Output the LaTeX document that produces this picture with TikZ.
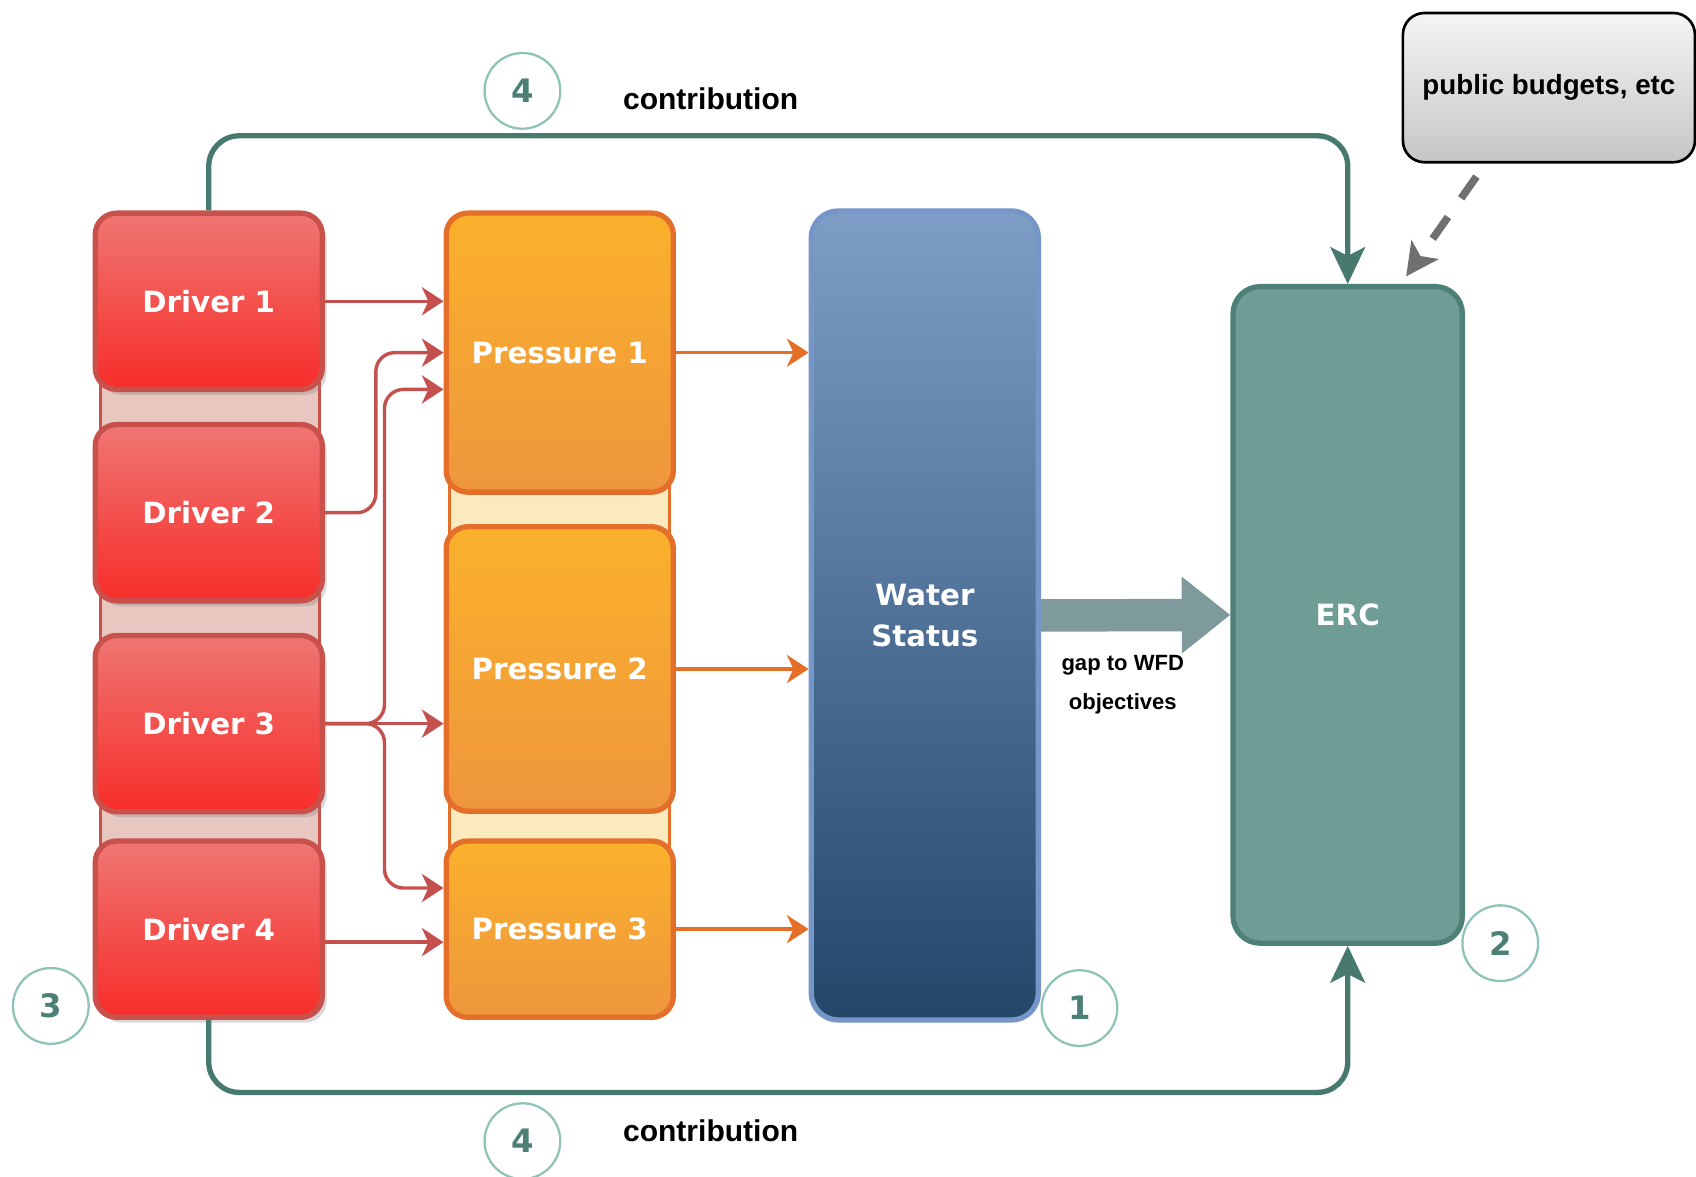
\documentclass[tikz,border=0pt]{standalone}
\usepackage{fontspec}
\setmainfont{Liberation Sans}
\newfontfamily\boxfont{DejaVu Sans}
\usetikzlibrary{arrows.meta,shadows}
\definecolor{drvtop}{HTML}{EF7672}
\definecolor{drvbot}{HTML}{F72D2A}
\definecolor{drvline}{HTML}{C9514C}
\definecolor{drvback}{HTML}{E8C7C1}
\definecolor{prtop}{HTML}{FBB12B}
\definecolor{prbot}{HTML}{EE963D}
\definecolor{prline}{HTML}{E46F2B}
\definecolor{prback}{HTML}{FCEABF}
\definecolor{wtop}{HTML}{7E9DC7}
\definecolor{wbot}{HTML}{234669}
\definecolor{wline}{HTML}{7596C6}
\definecolor{ercfill}{HTML}{6F9C94}
\definecolor{ercline}{HTML}{4D8177}
\definecolor{tealln}{HTML}{47796F}
\definecolor{numline}{HTML}{8FC3B7}
\definecolor{numtext}{HTML}{4C8075}
\definecolor{redarr}{HTML}{C5514E}
\definecolor{orarr}{HTML}{E66F28}
\definecolor{gapcol}{HTML}{7F9A9D}
\definecolor{dashgrey}{HTML}{707070}
\tikzset{
	box/.style={rounded corners=0.2cm, line width=1.4pt, minimum width=2.1cm, text=white, align=center,
		font=\boxfont\bfseries\fontsize{7.7}{11}\selectfont},
	driverbox/.style={box, draw=drvline, top color=drvtop, bottom color=drvbot, minimum height=1.63cm,
		drop shadow={shadow xshift=0.04cm, shadow yshift=-0.05cm, opacity=0.3}},
	pressbox/.style={box, draw=prline, top color=prtop, bottom color=prbot},
	numcirc/.style={circle, draw=numline, line width=0.6pt, minimum size=0.7cm, text=numtext,
		font=\boxfont\bfseries\fontsize{8.5}{10}\selectfont},
	redline/.style={draw=redarr, line width=0.9pt, rounded corners=5pt, -{Stealth[length=0.2cm,width=0.26cm,inset=0.06cm]}},
	orline/.style={draw=orarr, line width=0.9pt, -{Stealth[length=0.2cm,width=0.26cm,inset=0.06cm]}},
	loopline/.style={draw=tealln, line width=1.4pt, rounded corners=8pt, -{Stealth[length=0.34cm,width=0.32cm,inset=0.08cm]}},
	lbl/.style={font=\bfseries\fontsize{7.9}{10}\selectfont}
}
\begin{document}
\begin{tikzpicture}
	\useasboundingbox (0,0) rectangle (15.68,-10.88);
	% columns behind the boxes
	\draw[drvline, fill=drvback, line width=0.8pt] (0.93,-2.2) rectangle (2.95,-9.3);
	\draw[prline, fill=prback, line width=0.8pt] (4.16,-2.2) rectangle (6.19,-9.3);
	\foreach \i/\y in {1/-2.785,2/-4.74,3/-6.69,4/-8.59}
		\node[driverbox] (d\i) at (1.93,\y) {Driver \i};
	\node[pressbox, minimum height=2.58cm] (p1) at (5.175,-3.26) {Pressure 1};
	\node[pressbox, minimum height=2.63cm] (p2) at (5.175,-6.185) {Pressure 2};
	\node[pressbox, minimum height=1.63cm] (p3) at (5.175,-8.59) {Pressure 3};
	\node[box, draw=wline, top color=wtop, bottom color=wbot, rounded corners=0.25cm,
		minimum height=7.48cm] (w) at (8.55,-5.69) {Water\\Status};
	\node[box, draw=ercline, fill=ercfill, rounded corners=0.25cm, minimum width=2.12cm,
		minimum height=6.07cm] (erc) at (12.46,-5.685) {ERC};
	\node[draw=black, rounded corners=0.2cm, line width=0.7pt, top color=gray!8, bottom color=gray!45,
		minimum width=2.7cm, minimum height=1.38cm, font=\bfseries\fontsize{7.3}{9}\selectfont]
		(pub) at (14.32,-0.81) {public budgets, etc};
	% drivers to pressures
	\draw[redline] (d1.east) -- (p1.west |- d1.east);
	\draw[redline] (d2.east) -- ++(0.47,0) |- (p1.west);
	\draw[redline] (d3.east) -- ++(0.55,0) |- ([yshift=-0.34cm]p1.west);
	\draw[redline] (d3.east) -- (p2.west |- d3.east);
	\draw[redline] (d3.east) -- ++(0.55,0) |- ([yshift=0.38cm]p3.west);
	\draw[redline] ([yshift=-0.12cm]d4.east) -- ([yshift=-0.12cm]p3.west);
	% pressures to status
	\draw[orline] (p1.east) -- (w.west |- p1.east);
	\draw[orline] (p2.east) -- (w.west |- p2.east);
	\draw[orline] (p3.east) -- (w.west |- p3.east);
	% gap
	\draw[gapcol, line width=0.3cm, -{Triangle[length=0.45cm,width=0.68cm]}] (w.east) -- (erc.west);
	\node[font=\bfseries\fontsize{5.8}{10.5}\selectfont, align=center] (gap) at (10.38,-6.33) {gap to WFD\\objectives};
	% contribution loops
	\draw[loopline] (d1.north) -- ++(0,0.69) -| (erc.north);
	\draw[loopline] (d4.south) -- ++(0,-0.67) -| (erc.south);
	\draw[dashgrey, line width=2pt, dash pattern=on 7pt off 6pt, -{Stealth[length=0.3cm,width=0.3cm,inset=0.07cm]}]
		([shift={(-0.67,-0.12)}]pub.south) -- ([shift={(0.54,0.07)}]erc.north);
	\node[lbl] (top) at (6.57,-0.91) {contribution};
	\node[lbl] (bot) at (6.57,-10.45) {contribution};
	\foreach \x/\y/\n [count=\k] in {4.83/-0.84/4, 4.83/-10.55/4, 0.47/-9.30/3, 9.98/-9.32/1, 13.87/-8.72/2}
		\node[numcirc] (n\k) at (\x,\y) {\n};
\end{tikzpicture}
\end{document}
